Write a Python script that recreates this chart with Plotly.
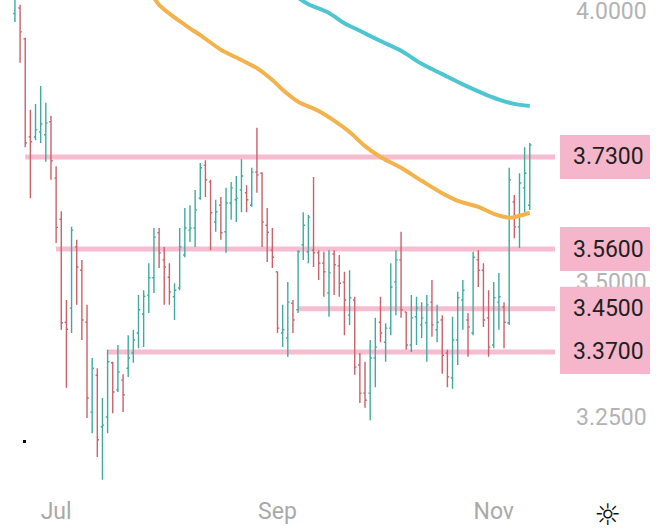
import pandas as pd
import plotly.graph_objects as go

# ---------------- data ----------------
holidays = ["2022-07-04", "2022-09-05"]
dates = [d.strftime("%Y-%m-%d") for d in pd.bdate_range("2022-06-21", "2022-11-10")
         if d.strftime("%Y-%m-%d") not in holidays]

open_ = [3.995, 4.005, 3.948, 3.767, 3.767, 3.776, 3.771, 3.795, 3.691, 3.615,
         3.425, 3.451, 3.564, 3.521, 3.425, 3.259, 3.327, 3.232, 3.250, 3.350,
         3.300, 3.318, 3.340, 3.368, 3.405, 3.440, 3.475, 3.507, 3.590, 3.540,
         3.508, 3.472, 3.488, 3.549, 3.595, 3.599, 3.654, 3.715, 3.684, 3.610,
         3.641, 3.592, 3.645, 3.651, 3.669, 3.664, 3.641, 3.702, 3.700, 3.604,
         3.558, 3.518, 3.405, 3.396, 3.460, 3.448, 3.568, 3.555, 3.558, 3.553,
         3.534, 3.479, 3.551, 3.529, 3.499, 3.438, 3.466, 3.346, 3.294, 3.294,
         3.359, 3.425, 3.388, 3.414, 3.499, 3.540, 3.444, 3.383, 3.435, 3.420,
         3.424, 3.462, 3.411, 3.429, 3.368, 3.322, 3.392, 3.466, 3.429, 3.405,
         3.540, 3.521, 3.433, 3.383, 3.462, 3.453, 3.424, 3.647, 3.601, 3.673,
         3.641]
high = [4.060, 4.011, 3.950, 3.817, 3.828, 3.861, 3.830, 3.806, 3.713, 3.630,
        3.466, 3.601, 3.577, 3.540, 3.457, 3.359, 3.340, 3.285, 3.374, 3.352,
        3.383, 3.329, 3.401, 3.411, 3.475, 3.484, 3.534, 3.599, 3.599, 3.564,
        3.534, 3.497, 3.599, 3.636, 3.641, 3.669, 3.719, 3.724, 3.688, 3.651,
        3.656, 3.673, 3.684, 3.695, 3.726, 3.678, 3.710, 3.784, 3.702, 3.636,
        3.599, 3.518, 3.457, 3.499, 3.466, 3.558, 3.628, 3.623, 3.693, 3.558,
        3.555, 3.558, 3.558, 3.549, 3.518, 3.521, 3.472, 3.368, 3.352, 3.392,
        3.433, 3.472, 3.423, 3.534, 3.558, 3.592, 3.444, 3.475, 3.472, 3.462,
        3.475, 3.503, 3.457, 3.438, 3.374, 3.435, 3.481, 3.503, 3.442, 3.555,
        3.558, 3.534, 3.484, 3.499, 3.516, 3.462, 3.710, 3.660, 3.700, 3.748,
        3.756]
low = [3.979, 3.904, 3.748, 3.654, 3.761, 3.756, 3.721, 3.688, 3.571, 3.411,
       3.304, 3.405, 3.457, 3.392, 3.248, 3.220, 3.176, 3.134, 3.220, 3.257,
       3.296, 3.259, 3.324, 3.350, 3.377, 3.379, 3.442, 3.479, 3.525, 3.457,
       3.457, 3.429, 3.484, 3.545, 3.573, 3.564, 3.651, 3.656, 3.558, 3.592,
       3.577, 3.553, 3.614, 3.610, 3.628, 3.628, 3.638, 3.664, 3.564, 3.536,
       3.525, 3.405, 3.379, 3.361, 3.405, 3.442, 3.540, 3.534, 3.527, 3.503,
       3.472, 3.435, 3.475, 3.472, 3.401, 3.420, 3.328, 3.276, 3.267, 3.244,
       3.305, 3.388, 3.352, 3.401, 3.438, 3.433, 3.374, 3.370, 3.383, 3.396,
       3.352, 3.398, 3.388, 3.330, 3.305, 3.302, 3.346, 3.411, 3.361, 3.401,
       3.490, 3.416, 3.361, 3.377, 3.411, 3.377, 3.420, 3.580, 3.562, 3.628,
       3.632]
close = [4.035, 3.961, 3.756, 3.758, 3.780, 3.791, 3.793, 3.723, 3.600, 3.424,
         3.412, 3.595, 3.527, 3.429, 3.285, 3.340, 3.208, 3.235, 3.352, 3.296,
         3.333, 3.291, 3.359, 3.392, 3.448, 3.473, 3.507, 3.582, 3.553, 3.527,
         3.481, 3.484, 3.564, 3.599, 3.599, 3.632, 3.710, 3.688, 3.627, 3.629,
         3.590, 3.645, 3.673, 3.654, 3.695, 3.651, 3.702, 3.697, 3.610, 3.591,
         3.545, 3.414, 3.411, 3.462, 3.429, 3.555, 3.604, 3.619, 3.553, 3.534,
         3.518, 3.516, 3.531, 3.497, 3.466, 3.470, 3.342, 3.294, 3.281, 3.359,
         3.379, 3.405, 3.414, 3.490, 3.540, 3.448, 3.383, 3.433, 3.451, 3.433,
         3.457, 3.420, 3.425, 3.364, 3.324, 3.392, 3.470, 3.484, 3.416, 3.545,
         3.521, 3.429, 3.379, 3.470, 3.472, 3.425, 3.688, 3.601, 3.682, 3.700,
         3.752]

ma_fast_dates = ["2022-07-28", "2022-08-01", "2022-08-08", "2022-08-11", "2022-08-17",
                 "2022-08-23", "2022-08-26", "2022-08-31", "2022-09-02", "2022-09-08",
                 "2022-09-14", "2022-09-19", "2022-09-22", "2022-09-27", "2022-09-30",
                 "2022-10-06", "2022-10-12", "2022-10-18", "2022-10-21", "2022-10-27",
                 "2022-11-01", "2022-11-04", "2022-11-07", "2022-11-10"]
ma_fast_values = [4.040, 4.011, 3.974, 3.955, 3.928,
                  3.909, 3.894, 3.872, 3.854, 3.832,
                  3.815, 3.797, 3.776, 3.750, 3.730,
                  3.710, 3.686, 3.663, 3.649, 3.638,
                  3.625, 3.618, 3.619, 3.627]

ma_slow_dates = ["2022-09-08", "2022-09-12", "2022-09-16", "2022-09-21", "2022-09-26",
                 "2022-09-30", "2022-10-06", "2022-10-12", "2022-10-18", "2022-10-24",
                 "2022-10-28", "2022-11-02", "2022-11-07", "2022-11-10"]
ma_slow_values = [4.024, 4.012, 3.996, 3.977, 3.963,
                  3.944, 3.926, 3.902, 3.883, 3.864,
                  3.847, 3.836, 3.828, 3.824]

level_values = [3.73, 3.56, 3.45, 3.37]
level_start = ["2022-06-23", "2022-07-01", "2022-09-08", "2022-07-18"]

month_ticks = ["2022-07-01", "2022-09-01", "2022-11-01"]
month_labels = ["Jul", "Sep", "Nov"]

# ---------------- styling / layout constants ----------------
W, H = 660, 532
M_L, M_R, M_T, M_B = 0, 105, 0, 42
PLOT_W = W - M_L - M_R
PLOT_H = H - M_T - M_B
Y_RANGE = [3.1152, 4.0198]
X_RANGE = [-2.9, 104.9]
px_per_unit = PLOT_H / (Y_RANGE[1] - Y_RANGE[0])

UP = "#3fab9f"
DOWN = "#c9626b"
PINK_LINE = "#f6bccf"
PINK_BOX = "#f5b6cb"
FONT = "Roboto, Liberation Sans, sans-serif"

fig = go.Figure()

fig.add_trace(go.Ohlc(
    x=dates, open=open_, high=high, low=low, close=close,
    increasing=dict(line=dict(color=UP, width=1.4)),
    decreasing=dict(line=dict(color=DOWN, width=1.4)),
    tickwidth=0.34, showlegend=False, hoverinfo="skip",
))

fig.add_trace(go.Scatter(
    x=ma_fast_dates, y=ma_fast_values, mode="lines",
    line=dict(color="#f3b24b", width=4, shape="spline", smoothing=0.8),
    showlegend=False, hoverinfo="skip",
))
fig.add_trace(go.Scatter(
    x=ma_slow_dates, y=ma_slow_values, mode="lines",
    line=dict(color="#4ec6d2", width=4, shape="spline", smoothing=0.8),
    showlegend=False, hoverinfo="skip",
))

shapes = []
annotations = []
# horizontal level lines
for lv, st in zip(level_values, level_start):
    shapes.append(dict(type="line", xref="x", yref="y",
                       x0=dates.index(st), x1=X_RANGE[1], y0=lv, y1=lv,
                       line=dict(color=PINK_LINE, width=5), layer="below"))

# price boxes on the right axis (merged when overlapping)
half = 22 / px_per_unit
intervals = sorted([[lv - half, lv + half] for lv in level_values])
merged = []
for a, b in intervals:
    if merged and a <= merged[-1][1]:
        merged[-1][1] = max(merged[-1][1], b)
    else:
        merged.append([a, b])
box_x0 = 560 / PLOT_W
box_x1 = 650 / PLOT_W
for a, b in merged:
    shapes.append(dict(type="rect", xref="paper", yref="y",
                       x0=box_x0, x1=box_x1, y0=a, y1=b,
                       fillcolor=PINK_BOX, line=dict(width=0), layer="above"))
for lv in level_values:
    annotations.append(dict(xref="paper", yref="y", x=609 / PLOT_W, y=lv,
                            text=f"{lv:.4f}", showarrow=False, xanchor="center",
                            yanchor="middle",
                            font=dict(family=FONT, size=23, color="#1f1f1f")))

# small decorations
annotations.append(dict(xref="paper", yref="paper", x=607 / PLOT_W, y=-24 / PLOT_H,
                        text="☼", showarrow=False, xanchor="center", yanchor="middle",
                        font=dict(family="DejaVu Sans", size=30, color="#111")))
shapes.append(dict(type="rect", xref="paper", yref="paper",
                   x0=23 / PLOT_W, x1=26 / PLOT_W,
                   y0=(PLOT_H - 443) / PLOT_H, y1=(PLOT_H - 440) / PLOT_H,
                   fillcolor="#000", line=dict(width=0), layer="above"))

fig.update_layout(
    width=W, height=H,
    margin=dict(l=M_L, r=M_R, t=M_T, b=M_B, pad=0, autoexpand=False),
    paper_bgcolor="white", plot_bgcolor="white",
    shapes=shapes, annotations=annotations,
    showlegend=False,
    xaxis=dict(type="category", range=X_RANGE, rangeslider=dict(visible=False),
               tickmode="array", tickvals=month_ticks, ticktext=month_labels,
               showgrid=False, zeroline=False, showline=False, ticks="",
               tickfont=dict(family=FONT, size=23, color="#a9a9a9"),
               ticklabelstandoff=5, automargin=False, fixedrange=True),
    yaxis=dict(side="right", range=Y_RANGE, dtick=0.25, tick0=0, tickformat=".4f",
               showgrid=False, zeroline=False, showline=False, ticks="",
               tickfont=dict(family=FONT, size=23, color="#b3b3b3"),
               ticklabelstandoff=20, ticklabeloverflow="allow",
               automargin=False, fixedrange=True),
)

fig.write_html(
    "out.html",
    config={"displayModeBar": False},
    post_script="document.body.style.margin='0';document.body.style.overflow='hidden';",
)
